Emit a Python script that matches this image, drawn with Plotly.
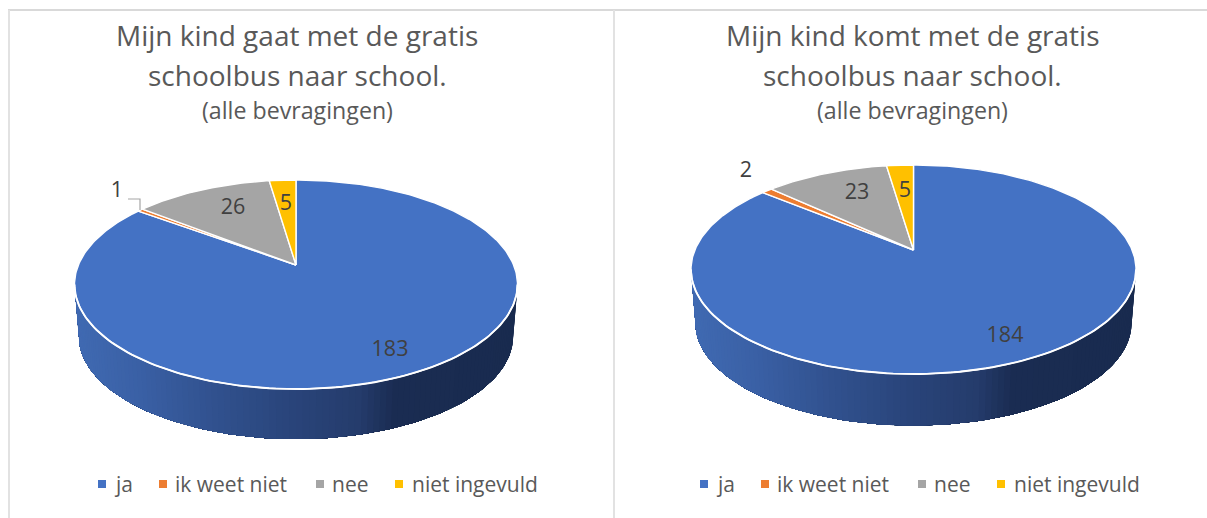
import math
import plotly.graph_objects as go

CATEGORIES = ["ja", "ik weet niet", "nee", "niet ingevuld"]
VALUES_LEFT = [183, 1, 26, 5]
VALUES_RIGHT = [184, 2, 23, 5]
TITLE_LEFT = ["Mijn kind gaat met de gratis", "schoolbus naar school."]
TITLE_RIGHT = ["Mijn kind komt met de gratis", "schoolbus naar school."]
SUBTITLE = "(alle bevragingen)"

COLORS = ["#4472C4", "#ED7D31", "#A5A5A5", "#FFC000"]
FONT = "Open Sans"
GREY = "#595959"
DARK = "#404040"
WALL_STOPS = [(0.0, (64, 106, 178)), (0.15, (58, 96, 165)), (0.3, (50, 83, 145)),
              (0.5, (41, 68, 122)), (0.65, (37, 60, 108)), (0.73, (26, 44, 82)),
              (1.0, (25, 43, 79))]

K = 0.1866
A = 100.9


def wall_color(f):
    for (f0, c0), (f1, c1) in zip(WALL_STOPS, WALL_STOPS[1:]):
        if f <= f1:
            t = (f - f0) / (f1 - f0)
            return "rgb(%d,%d,%d)" % tuple(round(a + (b - a) * t) for a, b in zip(c0, c1))
    return "rgb(25,43,79)"


def project(theta, cx, cy, b, scale=1.0, dy=0.0):
    u, v = math.sin(theta), math.cos(theta)
    w = 1 + K * v
    return cx + scale * b * u / w, cy - scale * A * v / w + dy


def add_pie(fig, values, cx, cy, b, dy, labels, leader=None):
    total = sum(values)
    t0 = math.acos(-K)
    t1 = 2 * math.pi - t0
    rx = b / math.sqrt(1 - K * K)
    # wall: the rim runs right to left; each polygon repaints everything left of its
    # right edge, so a gradient appears without seams between strips
    n = 110
    angles = [t0 + (t1 - t0) * i / n for i in range(n + 1)]
    top = [project(t, cx, cy, b) for t in angles]
    low = [project(t, cx, cy, b, 0.98, dy) for t in angles]
    for i in range(n):
        poly = top[i:] + low[i:][::-1] + [top[i]]
        col = wall_color((top[i][0] - (cx - rx)) / (2 * rx))
        fig.add_trace(go.Scatter(
            x=[q[0] for q in poly], y=[q[1] for q in poly],
            mode="lines", fill="toself", fillcolor=col, line=dict(width=0),
            hoverinfo="skip", showlegend=False))
    # slices clockwise from 12 o'clock
    start = 0.0
    for name, val, col in zip(CATEGORIES, values, COLORS):
        end = start + val / total * 2 * math.pi
        steps = max(2, int((end - start) * 60))
        pts = [project(start + (end - start) * j / steps, cx, cy, b) for j in range(steps + 1)]
        xs = [cx] + [q[0] for q in pts] + [cx]
        ys = [cy] + [q[1] for q in pts] + [cy]
        fig.add_trace(go.Scatter(
            x=xs, y=ys, mode="lines", fill="toself", fillcolor=col,
            line=dict(color="white", width=1.4), name=name,
            hovertemplate=name + ": %d<extra></extra>" % val, showlegend=False))
        start = end
    # rim highlight
    fig.add_trace(go.Scatter(x=[q[0] for q in top], y=[q[1] for q in top], mode="lines",
                             line=dict(color="white", width=1.9), hoverinfo="skip", showlegend=False))
    # value labels
    fig.add_trace(go.Scatter(
        x=[q[0] for q in labels], y=[q[1] for q in labels], mode="text",
        text=[str(v) for v in values], textposition="middle center",
        textfont=dict(family=FONT, size=21.5, color=DARK), hoverinfo="skip", showlegend=False))
    if leader:
        fig.add_trace(go.Scatter(x=leader[0], y=leader[1], mode="lines",
                                 line=dict(color="#A6A6A6", width=1.2), hoverinfo="skip", showlegend=False))


def add_legend(fig, marker_x, text_x, y):
    fig.add_trace(go.Scatter(x=marker_x, y=[y] * 4, mode="markers",
                             marker=dict(symbol="square", size=8, color=COLORS, line=dict(width=0)),
                             hoverinfo="skip", showlegend=False))
    for tx, name in zip(text_x, CATEGORIES):
        fig.add_annotation(x=tx, y=y, text=name, showarrow=False, xanchor="left", yanchor="middle",
                           xshift=-2, font=dict(family=FONT, size=21, color=GREY))


def add_title(fig, cx, lines):
    for ty, line in zip((35, 75), lines):
        fig.add_annotation(x=cx, y=ty, text=line, showarrow=False, xanchor="center", yanchor="middle",
                           font=dict(family=FONT, size=28, color=GREY))
    fig.add_annotation(x=cx, y=110, text=SUBTITLE, showarrow=False, xanchor="center", yanchor="middle",
                       font=dict(family=FONT, size=23.2, color=GREY))


fig = go.Figure()
add_pie(fig, VALUES_LEFT, 296, 265, 217.6, 52.5,
        [(390, 351), (117, 192), (233, 209), (286, 205)],
        leader=([128, 140, 140], [199, 199, 210]))
add_pie(fig, VALUES_RIGHT, 913.5, 250, 218.6, 54,
        [(1005, 337), (746, 172), (857, 194), (905, 192)])
add_legend(fig, [102, 163, 320, 399], [113.5, 175, 332, 412], 484)
add_legend(fig, [704, 765, 922, 1001], [715.5, 777, 934, 1014], 484)
add_title(fig, 297, TITLE_LEFT)
add_title(fig, 912.5, TITLE_RIGHT)

line = dict(color="#D9D9D9", width=2)
fig.add_shape(type="line", x0=8, x1=1207, y0=10, y1=10, line=line, layer="below")
line = dict(color="#E2E2E2", width=2)
fig.add_shape(type="line", x0=9, x1=9, y0=10, y1=518, line=line, layer="below")
fig.add_shape(type="line", x0=614, x1=614, y0=10, y1=518, line=line, layer="below")

fig.update_layout(
    width=1207, height=518, autosize=False, margin=dict(l=0, r=0, t=0, b=0),
    paper_bgcolor="white", plot_bgcolor="white", showlegend=False,
    xaxis=dict(range=[0, 1207], visible=False, fixedrange=True),
    yaxis=dict(range=[518, 0], visible=False, fixedrange=True),
)
fig.write_html("out.html", config=dict(displayModeBar=False),
               post_script="document.body.style.margin='0';document.body.style.overflow='hidden';")
